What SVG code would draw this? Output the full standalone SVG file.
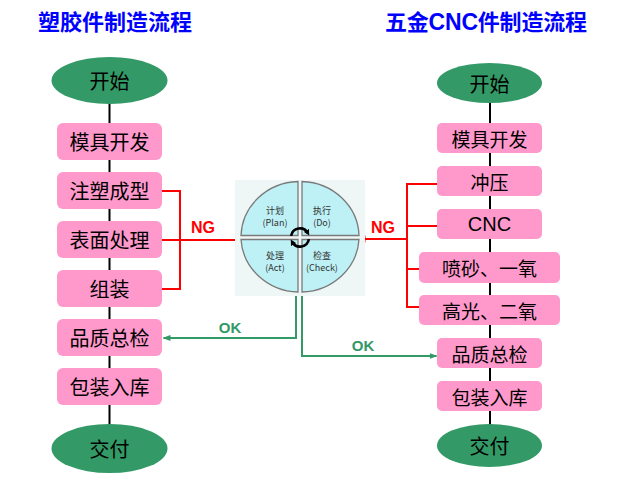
<svg xmlns="http://www.w3.org/2000/svg" width="632" height="480" viewBox="0 0 632 480">
<defs>
<style>
.title{font-family:"Noto Sans CJK SC","Microsoft YaHei",sans-serif;font-weight:bold;font-size:22px;fill:#0000ff}
.box{fill:#ff99cc}
.start{fill:#339966}
.t{font-family:"Noto Sans CJK SC",sans-serif;font-size:20px;fill:#000;text-anchor:middle;dominant-baseline:central}
.tr{font-family:"Noto Sans CJK SC",sans-serif;font-size:19px;fill:#000;text-anchor:middle;dominant-baseline:central}
.trl{font-family:"Liberation Sans",Arial,sans-serif;font-size:20px;fill:#000;text-anchor:middle;dominant-baseline:central}
.flow{stroke:#000;stroke-width:2;fill:none}
.ng{stroke:#ff0000;stroke-width:2;fill:none}
.ok{stroke:#339966;stroke-width:2;fill:none}
.ngt{font-family:"Liberation Sans",Arial,sans-serif;font-weight:bold;font-size:16px;fill:#ff0000;text-anchor:middle}
.okt{font-family:"Liberation Sans",Arial,sans-serif;font-weight:bold;font-size:15px;fill:#339966;text-anchor:middle}
.q{fill:#bdf1f6;stroke:#7a7a7a;stroke-width:1.3}
.pt{font-family:"Noto Sans CJK SC",sans-serif;font-size:9px;fill:#333;text-anchor:middle;dominant-baseline:central}
.cyc{stroke:#000;stroke-width:2.6;fill:none}
</style>
<marker id="ar" markerWidth="8" markerHeight="8" refX="7" refY="4" orient="auto" markerUnits="userSpaceOnUse"><path d="M0,0.5 L8,4 L0,7.5 Z" fill="#ff0000"/></marker>
<marker id="ag" markerWidth="8" markerHeight="8" refX="7" refY="4" orient="auto" markerUnits="userSpaceOnUse"><path d="M0,1 L8,4 L0,7 Z" fill="#339966"/></marker>
<marker id="ak" markerWidth="6" markerHeight="6" refX="3" refY="3" orient="auto" markerUnits="userSpaceOnUse"><path d="M0,0 L6,3 L0,6 Z" fill="#000"/></marker>
</defs>
<rect width="632" height="480" fill="#fff"/>
<text class="title" x="38" y="30">塑胶件制造流程</text>
<text class="title" x="385" y="30" textLength="202" lengthAdjust="spacing">五金<tspan font-family="Liberation Sans, Arial, sans-serif" font-size="23">CNC</tspan>件制造流程</text>

<g id="connectors">
<line class="flow" x1="109.5" y1="100" x2="109.5" y2="428"/>
<line class="flow" x1="490" y1="100" x2="490" y2="428"/>
<path class="ng" d="M162,191 H180 V289 H162 M162,240 H180 M180,240 H242" marker-end="url(#ar)"/>
<path class="ng" d="M437,184 H407 V307 H419 M437,226 H407 M407,269 H419 M407,239 H358.5" marker-end="url(#ar)"/>
<path class="ok" d="M296,296 V338 H163.5" marker-end="url(#ag)"/>
<path class="ok" d="M302,296 V356 H436.5" marker-end="url(#ag)"/>
<text class="ngt" x="203" y="233">NG</text>
<text class="ngt" x="383" y="233">NG</text>
<text class="okt" x="230" y="333">OK</text>
<text class="okt" x="363" y="351">OK</text>
</g>

<g id="pdca">
<rect x="235" y="180" width="130" height="116" fill="#eef6f6"/>
<path class="q" d="M298,235.5 L241,235.5 A59 56 0 0 1 298,181.5 Z"/>
<path class="q" d="M302,235.5 L359,235.5 A59 56 0 0 0 302,181.5 Z"/>
<path class="q" d="M298,239.5 L241,239.5 A59 56 0 0 0 298,292 Z"/>
<path class="q" d="M302,239.5 L359,239.5 A59 56 0 0 1 302,292 Z"/>
<text class="pt" x="275" y="210">计划</text>
<text class="pt" x="275" y="222">(Plan)</text>
<text class="pt" x="322" y="210">执行</text>
<text class="pt" x="322" y="222">(Do)</text>
<text class="pt" x="275" y="255">处理</text>
<text class="pt" x="275" y="267">(Act)</text>
<text class="pt" x="322" y="255">检查</text>
<text class="pt" x="322" y="267">(Check)</text>
<path class="cyc" d="M291.1,235.9 A9 9 0 0 1 307.8,233" marker-end="url(#ak)"/>
<path class="cyc" d="M308.9,239.1 A9 9 0 0 1 292.2,242" marker-end="url(#ak)"/>
</g>

<g id="l-start"><ellipse class="start" cx="109.5" cy="80.5" rx="58" ry="23.5"/><text class="t" x="109.5" y="80.5">开始</text></g>
<g id="l-mold"><rect class="box" x="57" y="123" width="105" height="37" rx="6"/><text class="t" x="109.5" y="141.5">模具开发</text></g>
<g id="l-inject"><rect class="box" x="57" y="172" width="105" height="37" rx="6"/><text class="t" x="109.5" y="190.5">注塑成型</text></g>
<g id="l-surface"><rect class="box" x="57" y="221" width="105" height="37" rx="6"/><text class="t" x="109.5" y="239.5">表面处理</text></g>
<g id="l-assemble"><rect class="box" x="57" y="270" width="105" height="37" rx="6"/><text class="t" x="109.5" y="288.5">组装</text></g>
<g id="l-qc"><rect class="box" x="57" y="319" width="105" height="37" rx="6"/><text class="t" x="109.5" y="337.5">品质总检</text></g>
<g id="l-pack"><rect class="box" x="57" y="368" width="105" height="37" rx="6"/><text class="t" x="109.5" y="386.5">包装入库</text></g>
<g id="l-end"><ellipse class="start" cx="109.5" cy="448.5" rx="58" ry="24.5"/><text class="t" x="109.5" y="448.5">交付</text></g>

<g id="r-start"><ellipse class="start" cx="489.5" cy="83" rx="52.5" ry="20"/><text class="t" x="489.5" y="83">开始</text></g>
<g id="r-mold"><rect class="box" x="437" y="123" width="105" height="30" rx="5"/><text class="tr" x="489.5" y="138">模具开发</text></g>
<g id="r-stamp"><rect class="box" x="437" y="166" width="105" height="30" rx="5"/><text class="tr" x="489.5" y="181">冲压</text></g>
<g id="r-cnc"><rect class="box" x="437" y="209" width="105" height="30" rx="5"/><text class="trl" x="489.5" y="224">CNC</text></g>
<g id="r-sand"><rect class="box" x="419" y="252" width="141" height="31" rx="5"/><text class="tr" x="489.5" y="267.5">喷砂、一氧</text></g>
<g id="r-polish"><rect class="box" x="419" y="295" width="141" height="30" rx="5"/><text class="tr" x="489.5" y="310">高光、二氧</text></g>
<g id="r-qc"><rect class="box" x="437" y="338" width="105" height="30" rx="5"/><text class="tr" x="489.5" y="353">品质总检</text></g>
<g id="r-pack"><rect class="box" x="437" y="381" width="105" height="30" rx="5"/><text class="tr" x="489.5" y="396">包装入库</text></g>
<g id="r-end"><ellipse class="start" cx="489.5" cy="445.5" rx="52.5" ry="21.5"/><text class="t" x="489.5" y="445.5">交付</text></g>
</svg>
